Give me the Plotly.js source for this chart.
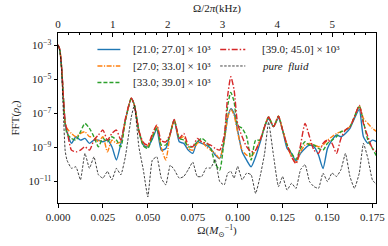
<!DOCTYPE html>
<html><head><meta charset="utf-8">
<script src="https://cdn.plot.ly/plotly-3.0.1.min.js"></script>
<style>html,body{margin:0;padding:0;background:#fff}#chart{width:388px;height:246px}</style>
</head><body><div id="chart"></div>
<script>
// Omega in M_sun^-1
const omega = [0, 0.001, 0.002, 0.003, 0.004, 0.005, 0.0075, 0.01, 0.0125, 0.015, 0.0175, 0.02, 0.0225, 0.025, 0.0275, 0.03, 0.0325, 0.035, 0.0375, 0.0408, 0.0425, 0.045, 0.0475, 0.05, 0.0525, 0.055, 0.0575, 0.06, 0.0625, 0.0647, 0.0675, 0.07, 0.0725, 0.075, 0.0775, 0.08, 0.0825, 0.085, 0.0875, 0.09, 0.0925, 0.0945, 0.0962, 0.098, 0.1, 0.1025, 0.105, 0.1075, 0.11, 0.1125, 0.115, 0.1172, 0.12, 0.1227, 0.125, 0.1275, 0.13, 0.1325, 0.135, 0.1375, 0.14, 0.1425, 0.145, 0.1475, 0.15, 0.1525, 0.155, 0.1575, 0.16, 0.1625, 0.165, 0.1677, 0.17, 0.1725, 0.175, 0.1775];

// log10 of FFT amplitude
const exp21_27 = [-2.97, -3.25, -4.3, -6.1, -7.6,
  -8.07, -8.75, -8.36, -8.56, -8.46, -8.75, -8.56, -8.56, -8.66, -8.56, -8.95, -9.73, -8.75,
  -7.4, -6.1, -6.5, -8.0,
  -8.85, -8.95, -8.5, -7.9, -9.15, -9.05,
  -8.17, -7.38, -8.66,
  -8.75, -9.15, -9.34, -8.66, -8.75, -8.85, -9.05, -9.44, -9.64,
  -8.6, -7.2, -6.72, -7.0, -8.0,
  -9.25, -9.74, -10.13, -9.54, -8.7, -7.77,
  -7.3, -7.77, -7.25, -7.97,
  -9.05, -9.34, -9.8, -9.34, -9.05, -8.85, -8.95, -9.44, -10.23,
  -9.05, -8.56, -8.26, -8.36, -8.17, -7.87, -7.28, -6.75,
  -8.36, -8.75, -8.56, -8.66];
const exp27_33 = [-2.97, -3.25, -4.3, -6.1, -7.6,
  -7.87, -8.17, -8.36, -8.17, -8.07, -8.36, -8.36, -8.66, -8.36, -9.25, -8.56, -8.75, -8.66,
  -7.4, -6.1, -6.5, -8.0,
  -8.8, -8.9, -8.3, -7.7, -9.0, -9.73,
  -8.17, -7.38, -8.46,
  -8.36, -9.05, -9.15, -8.75, -8.66, -8.95, -9.15, -9.34, -9.64,
  -8.6, -7.2, -6.75, -7.1, -8.1,
  -9.15, -9.44, -9.54, -9.15, -8.56, -7.77,
  -7.2, -7.77, -7.15, -7.97,
  -8.85, -9.54, -9.9, -9.25, -8.85, -8.75, -8.85, -8.95, -8.85,
  -8.56, -8.36, -8.17, -8.07, -7.97, -7.77, -7.19, -6.56,
  -7.28, -7.58, -7.87, -8.07];
const exp33_39 = [-2.97, -3.25, -4.3, -6.1, -7.6,
  -8.17, -8.46, -8.56, -8.07, -7.58, -7.87, -8.36, -8.95, -8.46, -8.66, -8.36, -8.56, -8.95,
  -7.4, -6.1, -6.5, -8.0,
  -8.9, -9.05, -8.4, -7.85, -8.85, -8.85,
  -8.17, -7.38, -8.46,
  -8.56, -8.95, -8.95, -8.66, -8.46, -8.66, -9.05, -9.93, -10.32,
  -8.5, -6.5, -5.75, -6.3, -7.7,
  -7.87, -8.36, -9.73, -8.56, -8.56, -7.77,
  -7.2, -7.77, -7.15, -7.97,
  -8.85, -9.34, -9.7, -9.05, -8.66, -8.85, -8.85, -9.05, -9.15,
  -8.75, -8.56, -8.36, -8.07, -7.97, -7.77, -7.19, -6.56,
  -7.48, -8.56, -9.05, -9.54];
const exp39_45 = [-2.95, -3.22, -4.25, -6.0, -7.5,
  -7.97, -9.15, -9.25, -9.15, -8.95, -9.15, -8.56, -8.26, -7.97, -8.56, -8.17, -7.97, -8.56,
  -7.3, -6.1, -6.5, -8.0,
  -8.7, -8.85, -8.2, -7.68, -8.6, -8.66,
  -8.17, -7.35, -8.46,
  -8.17, -8.85, -8.95, -8.46, -8.66, -8.75, -8.85, -9.05, -9.15,
  -8.3, -5.9, -4.83, -5.6, -7.6,
  -8.36, -8.95, -9.25, -9.15, -8.56, -7.77,
  -7.2, -7.77, -7.15, -7.97,
  -8.85, -9.54, -9.95, -8.85, -7.58, -8.36, -9.15, -9.34, -8.75,
  -8.56, -8.75, -9.34, -8.46, -7.97, -7.77, -7.19, -6.52,
  -7.58, -8.36, -9.05, -9.25];
const expPure = [-2.97, -3.3, -4.4, -7.0, -9.2,
  -9.74, -10.22, -10.13, -10.9, -9.34, -10.22, -9.54, -10.6, -10.8, -10.4, -10.9, -10.22, -10.6,
  -9.54, -7.2, -6.5, -8.95,
  -10.32, -11.9, -9.74, -9.54, -10.8, -11.2,
  -10.03, -10.3, -10.8,
  -10.7, -10.3, -9.85, -10.7, -10.7, -10.2, -10.2, -9.7, -11.0,
  -11.2, -10.5, -10.4, -10.8, -10.1,
  -10.9, -10.5, -10.6, -11.7, -10.7, -9.34,
  -7.5, -9.5, -11.3, -10.7,
  -11.5, -11.1, -11.4, -10.3, -10.0, -11.0, -11.3, -11.4, -10.5,
  -11.0, -10.5, -10.7, -10.3, -9.34, -10.7, -11.4, -10.5,
  -8.75, -9.64, -10.9, -11.2];

const seriesNames = ['[21.0; 27.0] × 10³', '[27.0; 33.0] × 10³', '[33.0; 39.0] × 10³', '[39.0; 45.0] × 10³', '<i>pure  fluid</i>'];
const yTickVals = [1e-3, 1e-5, 1e-7, 1e-9, 1e-11];
const yTickText = ['10<sup>−3</sup>', '10<sup>−5</sup>', '10<sup>−7</sup>', '10<sup>−9</sup>', '10<sup>−11</sup>'];
const xTickVals = [0, 0.025, 0.05, 0.075, 0.1, 0.125, 0.15, 0.175];
const kHzTicks = [0, 1, 2, 3, 4, 5];

const toVal = a => a.map(e => Math.pow(10, e));
const F = '"Liberation Serif", "DejaVu Serif", serif';

const styles = [
  {color: '#1f77b4', dash: 'solid', width: 1.4, sm: 0.6},
  {color: '#ff7f0e', dash: '5px,1.5px,1.2px,1.5px', width: 1.4, sm: 0.6},
  {color: '#2ca02c', dash: '4px,2px', width: 1.4, sm: 0.6},
  {color: '#d62728', dash: '6px,2px,1.5px,2px', width: 1.4, sm: 0.6},
  {color: '#111111', dash: '2.5px,1.5px', width: 0.8, sm: 0.4}
];
const ys = [exp21_27, exp27_33, exp33_39, exp39_45, expPure];

const traces = ys.map((e, i) => ({
  x: omega, y: toVal(e), type: 'scatter', mode: 'lines', name: seriesNames[i],
  line: {color: styles[i].color, dash: styles[i].dash, width: styles[i].width, shape: 'spline', smoothing: styles[i].sm},
  showlegend: false
}));
traces.push({x: [0, 5.8], y: [1e-3, 1e-3], xaxis: 'x2', yaxis: 'y', mode: 'lines', line: {width: 0}, showlegend: false, hoverinfo: 'skip'});

// legend (two columns) as shapes + text in paper coordinates
const legCols = [[0.124, 0.196, 0.228], [0.510, 0.589, 0.636]];
const legRows = [0.903, 0.806, 0.709];
const legSlots = [[0, 0], [0, 1], [0, 2], [1, 0], [1, 1]];
const shapes = [], annotations = [];
legSlots.forEach((s, i) => {
  const c = legCols[s[0]], y = legRows[s[1]];
  shapes.push({type: 'line', xref: 'paper', yref: 'paper', x0: c[0], x1: c[1], y0: y, y1: y,
    line: {color: styles[i].color, dash: styles[i].dash, width: styles[i].width}});
  annotations.push({xref: 'paper', yref: 'paper', x: c[2], y: y, xanchor: 'left', yanchor: 'middle',
    showarrow: false, text: seriesNames[i], font: {family: F, size: 11, color: '#222'}});
});

const layout = {
  width: 388, height: 246,
  margin: {l: 57.5, r: 12, t: 33, b: 43},
  paper_bgcolor: '#fff', plot_bgcolor: '#fff',
  font: {family: F, size: 11, color: '#222'},
  showlegend: false,
  shapes: shapes, annotations: annotations,
  xaxis: {range: [0, 0.177], tickvals: xTickVals, tickformat: '.3f', ticks: 'outside', ticklen: 3.5,
    tickcolor: '#000', showline: true, linecolor: '#000', linewidth: 1, mirror: false, showgrid: false, zeroline: false,
    tickfont: {family: F, size: 11, color: '#222'},
    title: {text: 'Ω(<i>M</i><sub>⊙</sub><sup>−1</sup>)', font: {family: F, size: 11, color: '#222'}, standoff: 4}},
  xaxis2: {overlaying: 'x', side: 'top', range: [0, 5.8], tickvals: kHzTicks, ticks: 'inside', ticklen: 3.5,
    tickcolor: '#000', showline: true, linecolor: '#000', linewidth: 1, showgrid: false, zeroline: false,
    minor: {dtick: 0.2, ticks: 'inside', ticklen: 2, tickcolor: '#000', showgrid: false},
    tickfont: {family: F, size: 11, color: '#222'},
    title: {text: 'Ω/2<i>π</i>(kHz)', font: {family: F, size: 11, color: '#222'}, standoff: 2}},
  yaxis: {type: 'log', range: [-12.26, -2.26], tickvals: yTickVals, ticktext: yTickText, ticks: 'outside', ticklen: 3.5,
    tickcolor: '#000', showline: true, linecolor: '#000', linewidth: 1, mirror: true, showgrid: false, zeroline: false,
    tickfont: {family: F, size: 11, color: '#222'},
    title: {text: 'FFT(<i>ρ</i><sub><i>c</i></sub>)', font: {family: F, size: 11, color: '#222'}, standoff: 6}}
};

Plotly.newPlot('chart', traces, layout, {staticPlot: true, displayModeBar: false});
</script></body></html>
